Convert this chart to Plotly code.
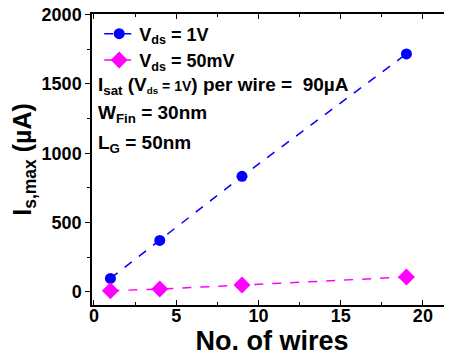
import plotly.graph_objects as go

wires = [1, 4, 9, 19]
vds_1v = [96, 370, 833, 1717]
vds_50mv = [7, 19, 48, 106]
x_ticks = [0, 5, 10, 15, 20]
y_ticks = [0, 500, 1000, 1500, 2000]

FONT = "Liberation Sans, Arial, sans-serif"

fig = go.Figure()
fig.add_trace(go.Scatter(
    x=wires, y=vds_1v, mode="lines+markers",
    name="<b>V<sub>ds</sub> = 1V</b>",
    line=dict(color="#0000ff", dash="dash", width=1.5),
    marker=dict(symbol="circle", size=11, color="#0000ff"),
))
fig.add_trace(go.Scatter(
    x=wires, y=vds_50mv, mode="lines+markers",
    name="<b>V<sub>ds</sub> = 50mV</b>",
    line=dict(color="#ff00ff", dash="dash", width=1.5),
    marker=dict(symbol="diamond", size=13, color="#ff00ff"),
))

ann_font = dict(family=FONT, size=19, color="black")
fig.add_annotation(xref="paper", yref="paper", x=0.01, y=0.752, xanchor="left", yanchor="middle",
                   showarrow=False, font=ann_font,
                   text="<b>I<sub>sat</sub> (V<span style='font-size:14px'><sub>ds</sub> = 1V</span>) per wire =  90µA</b>")
fig.add_annotation(xref="paper", yref="paper", x=0.01, y=0.656, xanchor="left", yanchor="middle",
                   showarrow=False, font=ann_font,
                   text="<b>W<sub>Fin</sub> = 30nm</b>")
fig.add_annotation(xref="paper", yref="paper", x=0.01, y=0.553, xanchor="left", yanchor="middle",
                   showarrow=False, font=ann_font,
                   text="<b>L<sub>G</sub> = 50nm</b>")

fig.update_layout(
    width=444, height=354,
    margin=dict(l=84, r=0, t=6, b=57, autoexpand=False),
    paper_bgcolor="white", plot_bgcolor="white",
    font=dict(family=FONT, color="black"),
    showlegend=True,
    legend=dict(x=0.02, y=0.995, xanchor="left", yanchor="top",
                bgcolor="rgba(0,0,0,0)", font=dict(family=FONT, size=18, color="black"),
                tracegroupgap=0, itemwidth=30),
)
fig.update_xaxes(
    automargin=False, ticklabeloverflow="allow", ticklabelstandoff=-6,
    range=[-0.12, 21.77], tickvals=x_ticks, ticktext=[f"<b>{v}</b>" for v in x_ticks],
    ticks="inside", ticklen=5, tickwidth=1, tickcolor="black",
    minor=dict(dtick=2.5, ticks="inside", ticklen=3, tickcolor="black"),
    showline=True, linecolor="black", linewidth=1.5, mirror="ticks",
    showgrid=False, zeroline=False,
    tickfont=dict(family=FONT, size=18, color="black"),
    title=dict(text="<b>No. of wires</b>", font=dict(family=FONT, size=27, color="black"), standoff=0),
)
fig.update_yaxes(
    automargin=False, ticklabeloverflow="allow",
    range=[-96, 2005], tickvals=y_ticks, ticktext=[f"<b>{v}</b>" for v in y_ticks],
    ticks="outside", ticklen=5, tickwidth=1, tickcolor="black",
    minor=dict(dtick=250, ticks="outside", ticklen=3, tickcolor="black"),
    showline=True, linecolor="black", linewidth=1.5, mirror=False,
    showgrid=False, zeroline=False,
    tickfont=dict(family=FONT, size=18, color="black"),
    title=dict(text="<b>I<sub>s,max</sub> (µA)</b>", font=dict(family=FONT, size=25, color="black"), standoff=6),
)
fig.write_html("out.html")
